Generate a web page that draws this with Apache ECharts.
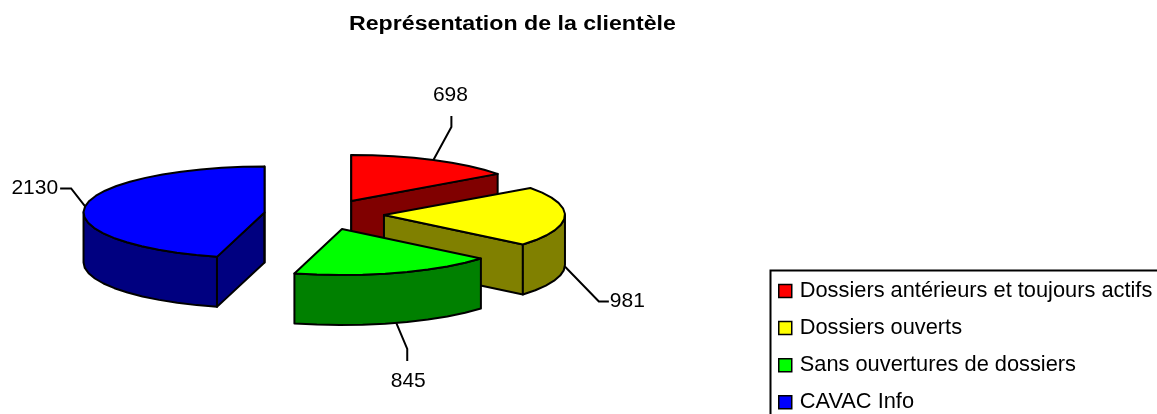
<!DOCTYPE html>
<html><head><meta charset="utf-8">
<style>html,body{margin:0;padding:0;background:#fff}#c{width:1157px;height:414px}</style>
<script src="https://cdn.jsdelivr.net/npm/echarts@6/dist/echarts.min.js"></script>
</head><body><div id="c"></div>
<script>
const categories = ['Dossiers antérieurs et toujours actifs', 'Dossiers ouverts', 'Sans ouvertures de dossiers', 'CAVAC Info'];
const values = [698, 981, 845, 2130];
const topColors = ['#FF0000', '#FFFF00', '#00FF00', '#0000FF'];
const sideColors = ['#800000', '#808000', '#008000', '#000080'];
const titleText = 'Représentation de la clientèle';

// Projection of the tilted, exploded pie
const CX = 324, CY = 214.5, RX = 181, RY = 46, DEPTH = 50, EXPLODE = 60, TILT = RY / RX;
const STROKE = 2, ARC_STEP = 7;
// Leader elbows and label placement, relative to each slice's rim anchor
const leaders = [
  { rimDepth: 0, elbow: [18, -33], tail: [0, -11], text: [-1, -21], align: 'center' },
  { rimDepth: 1, elbow: [34, 35], tail: [10, 0], text: [1, 0], align: 'left' },
  { rimDepth: 1, elbow: [11, 26], tail: [0, 12], text: [1, 20], align: 'center' },
  { rimDepth: 0, elbow: [-14, -18], tail: [-11, 0], text: [-2, 0], align: 'right' }
];

const total = values.reduce((a, b) => a + b, 0);
const rad = d => d * Math.PI / 180;
function sliceAngles(i) {
  const before = values.slice(0, i).reduce((a, b) => a + b, 0);
  return [before / total * 360, (before + values[i]) / total * 360];
}
function arcPoints(ax, ay, a0, a1) {
  const pts = [], n = Math.max(1, Math.round(Math.abs(a1 - a0) / ARC_STEP));
  for (let k = 0; k <= n; k++) {
    const a = rad(a0 + (a1 - a0) * k / n);
    pts.push([ax + RX * Math.sin(a), ay - RY * Math.cos(a)]);
  }
  return pts;
}
const drop = pts => pts.map(p => [p[0], p[1] + DEPTH]);

function renderSlice(i) {
  return function (params, api) {
    const value = api.value(0);
    const [a0, a1] = sliceAngles(i), mid = (a0 + a1) / 2;
    const ax = CX + EXPLODE * Math.sin(rad(mid));
    const ay = CY - EXPLODE * TILT * Math.cos(rad(mid));
    const style = fill => ({ fill, stroke: '#000', lineWidth: STROKE, lineJoin: 'round' });
    const children = [];
    const wall = pts => children.push({ type: 'polygon', shape: { points: pts.concat(drop(pts).reverse()) }, style: style(sideColors[i]) });
    const rimAt = a => arcPoints(ax, ay, a, a)[0];
    if (-Math.cos(rad(a0 - 90)) > -1e-6) wall([[ax, ay], rimAt(a0)]);
    if (-Math.cos(rad(a1 + 90)) > -1e-6) wall([[ax, ay], rimAt(a1)]);
    const f0 = Math.max(a0, 90), f1 = Math.min(a1, 270);
    if (f1 > f0) wall(arcPoints(ax, ay, f0, f1));
    children.push({ type: 'polygon', shape: { points: [[ax, ay]].concat(arcPoints(ax, ay, a0, a1)) }, style: style(topColors[i]) });
    const L = leaders[i], rim = rimAt(mid);
    const p0 = [rim[0], rim[1] + L.rimDepth * DEPTH];
    const p1 = [p0[0] + L.elbow[0], p0[1] + L.elbow[1]];
    const p2 = [p1[0] + L.tail[0], p1[1] + L.tail[1]];
    children.push({ type: 'polyline', shape: { points: [p0, p1, p2] }, style: { fill: 'none', stroke: '#000', lineWidth: STROKE } });
    children.push({ type: 'text', style: {
      x: p2[0] + L.text[0], y: p2[1] + L.text[1], text: String(value), fill: '#000',
      font: '21px "Liberation Sans"', align: L.align, verticalAlign: 'middle' } });
    return { type: 'group', children };
  };
}

const chart = echarts.init(document.getElementById('c'), null, { renderer: 'canvas' });
chart.setOption({
  animation: false,
  backgroundColor: '#fff',
  legend: { orient: 'vertical', left: 778, top: 280, padding: 0, itemGap: 15.1, itemWidth: 13, itemHeight: 13,
    icon: 'rect', selectedMode: false, data: categories,
    itemStyle: { borderColor: '#000', borderWidth: 1.5 },
    textStyle: { fontFamily: 'Liberation Sans', fontSize: 21.8, color: '#000', padding: [0, 0, 0, 3] } },
  graphic: [
    { type: 'rect', silent: true, z: -1, shape: { x: 770.5, y: 270.5, width: 420, height: 180 },
      style: { fill: '#fff', stroke: '#000', lineWidth: 2 } },
    { type: 'text', silent: true, x: 349, y: 24, scaleX: 1.158,
      style: { text: titleText, font: 'bold 20px "Liberation Sans"', fill: '#000', verticalAlign: 'middle' } }
  ],
  series: categories.map((name, i) => ({
    type: 'custom', name, coordinateSystem: 'none', silent: true,
    itemStyle: { color: topColors[i] }, z: 2 + i, renderItem: renderSlice(i), data: [[values[i]]]
  }))
});
</script></body></html>
